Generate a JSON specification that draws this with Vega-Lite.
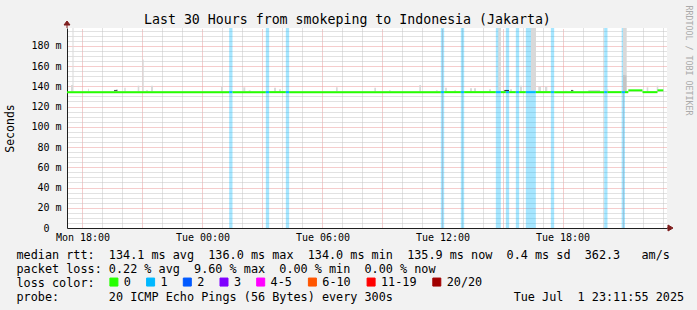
{
  "$schema": "https://vega.github.io/schema/vega-lite/v6.json",
  "width": 600,
  "height": 200,
  "autosize": "none",
  "padding": {"left": 67, "top": 28, "right": 30, "bottom": 82},
  "background": "#f2f2f2",
  "view": {"fill": "#ffffff", "stroke": null},
  "title": {
    "text": "Last 30 Hours from smokeping to Indonesia (Jakarta)",
    "anchor": "start", "frame": "group", "dx": 77, "offset": -32,
    "baseline": "alphabetic", "font": "DejaVu Sans Mono", "fontSize": 13.25,
    "fontWeight": "normal", "color": "#000000"
  },
  "datasets": {
    "samples": [
      {"t0": 17.225, "t1": 25.333, "median": 134.2, "loss": "0"},
      {"t0": 25.333, "t1": 25.5, "median": 134.2, "loss": "1"},
      {"t0": 25.5, "t1": 27.167, "median": 134.2, "loss": "0"},
      {"t0": 27.167, "t1": 27.333, "median": 134.2, "loss": "1"},
      {"t0": 27.333, "t1": 28.167, "median": 134.2, "loss": "0"},
      {"t0": 28.167, "t1": 28.333, "median": 134.2, "loss": "1"},
      {"t0": 28.333, "t1": 35.917, "median": 134.2, "loss": "0"},
      {"t0": 35.917, "t1": 36.083, "median": 134.2, "loss": "1"},
      {"t0": 36.083, "t1": 36.917, "median": 134.2, "loss": "0"},
      {"t0": 36.917, "t1": 37.083, "median": 134.2, "loss": "1"},
      {"t0": 37.083, "t1": 38.667, "median": 134.2, "loss": "0"},
      {"t0": 38.667, "t1": 38.917, "median": 134.2, "loss": "1"},
      {"t0": 38.917, "t1": 39.167, "median": 134.2, "loss": "0"},
      {"t0": 39.167, "t1": 39.333, "median": 134.2, "loss": "1"},
      {"t0": 39.333, "t1": 39.667, "median": 134.2, "loss": "0"},
      {"t0": 39.667, "t1": 39.833, "median": 134.2, "loss": "1"},
      {"t0": 39.833, "t1": 40.167, "median": 134.2, "loss": "0"},
      {"t0": 40.167, "t1": 40.667, "median": 134.2, "loss": "1"},
      {"t0": 40.667, "t1": 41.417, "median": 134.2, "loss": "0"},
      {"t0": 41.417, "t1": 41.583, "median": 134.2, "loss": "1"},
      {"t0": 41.583, "t1": 44.083, "median": 134.2, "loss": "0"},
      {"t0": 44.083, "t1": 44.25, "median": 134.2, "loss": "1"},
      {"t0": 44.25, "t1": 44.958, "median": 134.2, "loss": "0"},
      {"t0": 44.958, "t1": 45.125, "median": 134.2, "loss": "1"},
      {"t0": 45.125, "t1": 45.292, "median": 134.2, "loss": "0"},
      {"t0": 45.292, "t1": 46.0, "median": 136.0, "loss": "0"},
      {"t0": 46.0, "t1": 46.75, "median": 134.2, "loss": "0"},
      {"t0": 46.75, "t1": 47.042, "median": 136.0, "loss": "0"}
    ],
    "smoke": [
      {"t0": 17.425, "t1": 17.525, "lo": 134.5, "hi": 141.3, "pings": 1},
      {"t0": 17.5, "t1": 17.55, "lo": 134.5, "hi": 240, "pings": 1},
      {"t0": 18.275, "t1": 18.325, "lo": 134.5, "hi": 137.6, "pings": 1},
      {"t0": 19.675, "t1": 19.775, "lo": 134.5, "hi": 137, "pings": 1},
      {"t0": 20.09, "t1": 20.16, "lo": 134.5, "hi": 138.6, "pings": 1},
      {"t0": 20.76, "t1": 20.84, "lo": 134.5, "hi": 140.6, "pings": 1},
      {"t0": 20.99, "t1": 21.06, "lo": 134.5, "hi": 166.5, "pings": 1},
      {"t0": 21.175, "t1": 21.275, "lo": 134.5, "hi": 136, "pings": 1},
      {"t0": 21.425, "t1": 21.525, "lo": 134.5, "hi": 140.6, "pings": 1},
      {"t0": 24.925, "t1": 25.01, "lo": 134.5, "hi": 140, "pings": 1},
      {"t0": 26.04, "t1": 26.14, "lo": 134.5, "hi": 139, "pings": 1},
      {"t0": 26.31, "t1": 26.41, "lo": 134.5, "hi": 136, "pings": 1},
      {"t0": 27.575, "t1": 27.675, "lo": 134.5, "hi": 138.6, "pings": 1},
      {"t0": 27.825, "t1": 27.925, "lo": 134.5, "hi": 137, "pings": 1},
      {"t0": 30.675, "t1": 30.76, "lo": 134.5, "hi": 139, "pings": 1},
      {"t0": 32.59, "t1": 32.675, "lo": 134.5, "hi": 138.6, "pings": 1},
      {"t0": 33.325, "t1": 33.41, "lo": 134.5, "hi": 136, "pings": 1},
      {"t0": 34.84, "t1": 34.925, "lo": 134.5, "hi": 141.3, "pings": 1},
      {"t0": 35.675, "t1": 35.76, "lo": 134.5, "hi": 136, "pings": 1},
      {"t0": 36.125, "t1": 36.225, "lo": 134.5, "hi": 138.6, "pings": 1},
      {"t0": 36.59, "t1": 36.675, "lo": 134.5, "hi": 136, "pings": 1},
      {"t0": 37.375, "t1": 37.475, "lo": 134.5, "hi": 138, "pings": 1},
      {"t0": 37.575, "t1": 37.675, "lo": 134.5, "hi": 138, "pings": 1},
      {"t0": 38.325, "t1": 38.425, "lo": 134.5, "hi": 137, "pings": 1},
      {"t0": 38.79, "t1": 38.925, "lo": 136, "hi": 240, "pings": 1},
      {"t0": 39.375, "t1": 39.475, "lo": 134.5, "hi": 137, "pings": 1},
      {"t0": 39.875, "t1": 39.975, "lo": 134.5, "hi": 140.6, "pings": 1},
      {"t0": 40.425, "t1": 40.675, "lo": 136, "hi": 240, "pings": 1},
      {"t0": 40.79, "t1": 40.925, "lo": 134.5, "hi": 140, "pings": 1},
      {"t0": 41.125, "t1": 41.24, "lo": 134.5, "hi": 140, "pings": 1},
      {"t0": 42.125, "t1": 42.24, "lo": 134.5, "hi": 135.5, "pings": 1},
      {"t0": 43.29, "t1": 43.875, "lo": 134.5, "hi": 136, "pings": 2},
      {"t0": 44.21, "t1": 44.29, "lo": 134.5, "hi": 137, "pings": 1},
      {"t0": 45.025, "t1": 45.21, "lo": 151, "hi": 240, "pings": 1},
      {"t0": 45.025, "t1": 45.21, "lo": 134.5, "hi": 151, "pings": 2},
      {"t0": 46.21, "t1": 46.29, "lo": 134.5, "hi": 139, "pings": 1},
      {"t0": 46.71, "t1": 46.79, "lo": 134.5, "hi": 140.6, "pings": 1},
      {"t0": 19.575, "t1": 19.74, "lo": 135.2, "hi": 136.4, "pings": 8},
      {"t0": 39.09, "t1": 39.325, "lo": 135.2, "hi": 136.4, "pings": 10},
      {"t0": 42.425, "t1": 42.54, "lo": 135.2, "hi": 136.4, "pings": 8}
    ]
  },
  "layer": [
    {
      "data": {"name": "samples"},
      "transform": [{"filter": "datum.loss != '0'"}],
      "mark": {"type": "rect", "opacity": 0.35},
      "encoding": {
        "x": {"field": "t0", "type": "quantitative",
          "scale": {"domain": [17.225, 47.225], "nice": false, "zero": false},
          "axis": {"orient": "bottom", "values": [18, 21, 24, 27, 30, 33, 36, 39, 42, 45], "grid": true, "gridColor": "#eb9a9a", "gridDash": [1, 1], "labels": false, "ticks": false, "domain": false, "title": null}},
        "x2": {"field": "t1"},
        "color": {"field": "loss", "type": "nominal",
          "scale": {"domain": ["0", "1", "2", "3", "4-5", "6-10", "11-19", "20/20"],
            "range": ["#26ff00", "#00b8ff", "#0059ff", "#7e00ff", "#ff00ff", "#ff5500", "#ff0000", "#a10000"]},
          "legend": {"orient": "none", "legendX": 41, "legendY": 248, "direction": "horizontal", "columns": 8, "title": null,
            "symbolType": "square", "symbolSize": 64, "symbolStrokeColor": "#000000", "symbolStrokeWidth": 1, "symbolOpacity": 1,
            "labelFont": "DejaVu Sans Mono", "labelFontSize": 11.8, "labelColor": "#000000", "labelOffset": 4, "columnPadding": 12.7, "padding": 0,
            "encode": {"symbols": {"update": {"fill": {"scale": "color", "field": "value"}, "stroke": {"value": "#000000"}, "opacity": {"value": 1}}}}}}
      }
    },
    {
      "data": {"name": "smoke"},
      "mark": {"type": "rect", "clip": true},
      "encoding": {
        "x": {"field": "t0", "type": "quantitative",
          "scale": {"domain": [17.225, 47.225], "nice": false, "zero": false},
          "axis": {"orient": "bottom", "values": [19, 20, 22, 23, 25, 26, 28, 29, 31, 32, 34, 35, 37, 38, 40, 41, 43, 44, 46, 47], "grid": true, "gridColor": "#c4c4c4", "gridDash": [1, 1], "labels": false, "ticks": false, "domain": false, "title": null}},
        "x2": {"field": "t1"},
        "y": {"field": "lo", "type": "quantitative",
          "scale": {"domain": [0, 197.6], "nice": false},
          "axis": {"orient": "left", "values": [5, 10, 15, 25, 30, 35, 45, 50, 55, 65, 70, 75, 85, 90, 95, 105, 110, 115, 125, 130, 135, 145, 150, 155, 165, 170, 175, 185, 190, 195], "grid": true, "gridColor": "#c4c4c4", "gridDash": [1, 1], "labels": false, "ticks": false, "domain": false, "title": null}},
        "y2": {"field": "hi"},
        "fill": {"field": "pings", "type": "quantitative", "scale": {"domain": [1, 10], "range": ["#d9d9d9", "#303030"]}, "legend": null}
      }
    },
    {
      "data": {"name": "samples"},
      "mark": {"type": "rule", "strokeWidth": 2, "strokeCap": "butt"},
      "encoding": {
        "x": {"field": "t0", "type": "quantitative",
          "scale": {"domain": [17.225, 47.225], "nice": false, "zero": false},
          "axis": {"orient": "bottom", "values": [18, 24, 30, 36, 42], "grid": false, "ticks": false, "domain": true, "domainColor": "#1f1f1f",
            "labelExpr": "(datum.value < 24 ? 'Mon ' : 'Tue ') + (datum.value % 24 < 10 ? '0' : '') + (datum.value % 24) + ':00'",
            "labelFont": "DejaVu Sans Mono", "labelFontSize": 10, "labelColor": "#000000", "labelPadding": 4,
            "title": [
              "median rtt:\u00a0\u00a0134.1 ms avg\u00a0\u00a0136.0 ms max\u00a0\u00a0134.0 ms min\u00a0\u00a0135.9 ms now\u00a0\u00a00.4 ms sd\u00a0\u00a0362.3\u00a0\u00a0\u00a0am/s",
              "packet loss: 0.22 % avg\u00a0\u00a09.60 % max\u00a0\u00a00.00 % min\u00a0\u00a00.00 % now",
              "loss color:",
              "probe:\u00a0\u00a0\u00a0\u00a0\u00a0\u00a0\u00a020 ICMP Echo Pings (56 Bytes) every 300s\u00a0\u00a0\u00a0\u00a0\u00a0\u00a0\u00a0\u00a0\u00a0\u00a0\u00a0\u00a0\u00a0\u00a0\u00a0\u00a0\u00a0Tue Jul\u00a0\u00a01 23:11:55 2025"
            ],
            "titleFont": "DejaVu Sans Mono", "titleFontSize": 11.8, "titleFontWeight": "normal", "titleColor": "#000000",
            "titleAlign": "left", "titleBaseline": "alphabetic", "titleLineHeight": 14, "titleX": -51, "titleY": 30.3}},
        "x2": {"field": "t1"},
        "y": {"field": "median", "type": "quantitative",
          "scale": {"domain": [0, 197.6], "nice": false},
          "axis": {"orient": "left", "values": [0, 20, 40, 60, 80, 100, 120, 140, 160, 180], "grid": false, "ticks": false, "domain": true, "domainColor": "#1f1f1f",
            "labelExpr": "datum.value == 0 ? '0' : datum.value + ' m'",
            "labelFont": "DejaVu Sans Mono", "labelFontSize": 10, "labelColor": "#000000",
            "labelPadding": {"condition": {"test": "datum.value == 0", "value": 18}, "value": 6},
            "title": "Seconds", "titleFont": "DejaVu Sans Mono", "titleFontSize": 11.5, "titleFontWeight": "normal", "titleColor": "#000000",
            "titleAngle": 270, "titleX": -57, "titleY": 100, "titleAlign": "center", "titleBaseline": "middle"}},
        "color": {"field": "loss", "type": "nominal"}
      }
    },
    {
      "data": {"values": [{}]},
      "mark": {"type": "point", "shape": "M0,0L0,-3M-3,-3L3,-3L0,-7Z", "size": 4, "filled": true, "fill": "#7f1f1f", "stroke": "#7f1f1f", "strokeWidth": 1, "opacity": 1},
      "encoding": {
        "x": {"datum": 17.225, "type": "quantitative", "axis": null},
        "y": {"datum": 197.6, "type": "quantitative",
          "axis": {"orient": "right", "grid": false, "labels": false, "ticks": false, "domain": false,
            "title": "RRDTOOL / TOBI OETIKER", "titleFont": "DejaVu Sans Mono", "titleFontSize": 8.3, "titleFontWeight": "normal", "titleColor": "#aaaaaa",
            "titleAngle": 90, "titleX": 20, "titleY": -23, "titleAlign": "left", "titleBaseline": "middle"}}
      }
    },
    {
      "data": {"values": [{}]},
      "mark": {"type": "point", "shape": "M0,0L1,0M1,-3L1,3L6,0Z", "size": 4, "filled": true, "fill": "#7f1f1f", "stroke": "#7f1f1f", "strokeWidth": 1, "opacity": 1},
      "encoding": {
        "x": {"datum": 47.225, "type": "quantitative", "axis": null},
        "y": {"datum": 0, "type": "quantitative",
          "axis": {"orient": "left", "values": [20, 40, 60, 80, 100, 120, 140, 160, 180], "grid": true, "gridColor": "#eb9a9a", "gridDash": [1, 1], "labels": false, "ticks": false, "domain": false, "title": null}}
      }
    }
  ],
  "resolve": {"axis": {"x": "independent", "y": "independent"}},
  "config": {
    "font": "DejaVu Sans Mono",
    "view": {"stroke": null}
  }
}
